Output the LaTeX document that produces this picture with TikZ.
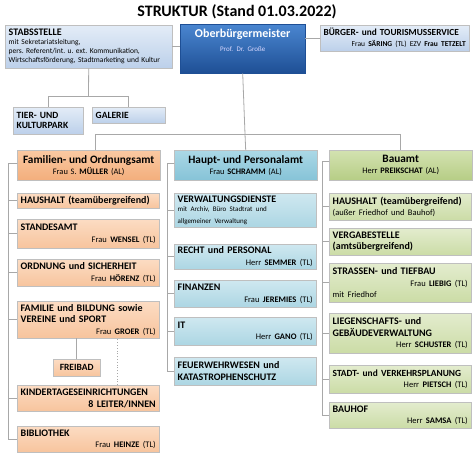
\documentclass[tikz,border=0pt]{standalone}
\usepackage{fontspec}
\setmainfont{Carlito}
\usetikzlibrary{shadows}
\frenchspacing

\definecolor{obtop}{HTML}{4A86D0}
\definecolor{obbot}{HTML}{1E4F95}
\definecolor{sttop}{HTML}{E3ECF7}
\definecolor{stbot}{HTML}{BCD0EA}
\definecolor{ortop}{HTML}{FCDCC3}
\definecolor{orbot}{HTML}{F7C49D}
\definecolor{orhtop}{HTML}{FAC9A2}
\definecolor{orhbot}{HTML}{F3AE7C}
\definecolor{bltop}{HTML}{CFE8F0}
\definecolor{blbot}{HTML}{ACD6E3}
\definecolor{blhtop}{HTML}{ABD8E6}
\definecolor{blhbot}{HTML}{86C3D7}
\definecolor{grtop}{HTML}{E3ECCE}
\definecolor{grbot}{HTML}{CBDCA6}
\definecolor{grhtop}{HTML}{D3E2B1}
\definecolor{grhbot}{HTML}{B6CD85}
\definecolor{wire}{HTML}{A8A8A8}

\newcommand{\namefont}{\fontsize{8.5}{11}\selectfont}
\newcommand{\who}[3]{\hfill\mbox{\namefont#1 \textbf{#2} (#3)}}

\begin{document}
\begin{tikzpicture}[x=1pt,y=-1pt,
	box/.style={draw=black!25, line width=.4pt, anchor=north west, inner xsep=3.5pt, inner ysep=1.5pt, align=left,
		drop shadow={shadow xshift=1pt, shadow yshift=-1pt, opacity=.35}},
	sub/.style={box, text width=135pt, font=\fontsize{10}{11.5}\selectfont},
	head/.style={box, text width=136pt, align=center, minimum height=30pt, font=\fontsize{8.4}{11}\selectfont},
	org/.style={top color=ortop, bottom color=orbot},
	orgh/.style={top color=orhtop, bottom color=orhbot},
	blu/.style={top color=bltop, bottom color=blbot},
	bluh/.style={top color=blhtop, bottom color=blhbot},
	grn/.style={top color=grtop, bottom color=grbot},
	grnh/.style={top color=grhtop, bottom color=grhbot},
	stb/.style={top color=sttop, bottom color=stbot},
	wire/.style={draw=wire, line width=.8pt}]
	\fill[white] (0,0) rectangle (474,455);
	\useasboundingbox (0,0) rectangle (474,455);

	\node[font=\fontsize{16}{18}\selectfont\bfseries] (title) at (237,12) {STRUKTUR (Stand 01.03.2022)};

	% top row
	\node[box, top color=obtop, bottom color=obbot, draw=obbot, text width=118pt, minimum height=49pt, align=center, text=white, inner ysep=4pt] (ob) at (180,24)
		{\fontsize{12}{14}\selectfont\bfseries Oberbürgermeister\\{\fontsize{7}{9}\selectfont\mdseries\color{blue!15} Prof. Dr. Große}\\\rule{0pt}{15pt}};
	\node[box, stb, text width=160pt, minimum height=43pt, font=\fontsize{7.5}{9}\selectfont] (stab) at (5,25)
		{\textbf{\fontsize{10}{10}\selectfont STABSSTELLE}\\mit Sekretariatsleitung,\\pers. Referent/int. u. ext. Kommunikation,\\Wirtschaftsförderung, Stadtmarketing und Kultur};
	\node[box, stb, text width=142pt, minimum height=26pt, font=\fontsize{9.3}{11}\selectfont] (buerger) at (320,25)
		{\mbox{\textbf{BÜRGER-\ und TOURISMUSSERVICE}}\\\hfill\mbox{\fontsize{7.5}{9}\selectfont Frau \textbf{SÄRING} (TL) EZV \textbf{Frau TETZELT}}};
	\node[box, stb, text width=63pt, minimum height=27pt, font=\fontsize{9.5}{10.5}\selectfont\bfseries] (tier) at (13,107) {TIER- UND\\KULTURPARK};
	\node[box, stb, text width=66pt, minimum height=16pt, font=\fontsize{9.5}{10.5}\selectfont\bfseries] (galerie) at (92,107) {GALERIE};

	% departments
	\node[head, orgh] (fam) at (17,150) {{\fontsize{11.3}{13}\selectfont\bfseries Familien- und Ordnungsamt}\\Frau S. \textbf{MÜLLER} (AL)};
	\node[head, bluh] (haupt) at (174,150) {{\fontsize{11.3}{13}\selectfont\bfseries Haupt- und Personalamt}\\Frau \textbf{SCHRAMM} (AL)};
	\node[head, grnh] (bau) at (329,150) {{\fontsize{11.3}{13}\selectfont\bfseries Bauamt}\\Herr \textbf{PREIKSCHAT} (AL)};

	% Familien- und Ordnungsamt
	\node[sub, org, minimum height=15pt] (haus) at (17,193) {\textbf{HAUSHALT (teamübergreifend)}};
	\node[sub, org, minimum height=29pt] (stand) at (17,219) {\textbf{STANDESAMT}\\\who{Frau}{WENSEL}{TL}};
	\node[sub, org, minimum height=27pt] (ordn) at (17,259) {\textbf{ORDNUNG und SICHERHEIT}\\\who{Frau}{HÖRENZ}{TL}};
	\node[sub, org, minimum height=37pt] (fambil) at (17,301) {\textbf{FAMILIE und BILDUNG sowie}\\\textbf{VEREINE und SPORT}\\\who{Frau}{GROER}{TL}};
	\node[box, org, text width=40pt, minimum height=17pt, align=center, font=\fontsize{9.5}{10.5}\selectfont\bfseries] (frei) at (53,359) {FREIBAD};
	\node[sub, org, minimum height=26pt] (kita) at (17,385) {\textbf{KINDERTAGESEINRICHTUNGEN}\\\hfill\textbf{8 LEITER/INNEN}};
	\node[sub, org, minimum height=26pt] (bib) at (17,426) {\textbf{BIBLIOTHEK}\\\who{Frau}{HEINZE}{TL}};

	% Haupt- und Personalamt
	\node[sub, blu, minimum height=34pt] (verw) at (174,193) {\textbf{VERWALTUNGSDIENSTE}\\{\fontsize{7}{9}\selectfont mit Archiv, Büro Stadtrat und\\allgemeiner Verwaltung}};
	\node[sub, blu, minimum height=25pt] (recht) at (174,244) {\textbf{RECHT und PERSONAL}\\\who{Herr}{SEMMER}{TL}};
	\node[sub, blu, minimum height=27pt] (fin) at (174,280) {\textbf{FINANZEN}\\\who{Frau}{JEREMIES}{TL}};
	\node[sub, blu, minimum height=28pt] (it) at (174,317) {\textbf{IT}\\\who{Herr}{GANO}{TL}};
	\node[sub, blu, minimum height=28pt] (feuer) at (174,357) {\textbf{FEUERWEHRWESEN und}\\\textbf{KATASTROPHENSCHUTZ}};

	% Bauamt
	\node[sub, grn, minimum height=27pt] (haus2) at (329,193) {\textbf{HAUSHALT (teamübergreifend)}\\{\namefont(außer Friedhof und Bauhof)}};
	\node[sub, grn, minimum height=27pt] (verg) at (329,228) {\textbf{VERGABESTELLE}\\\textbf{(amtsübergreifend)}};
	\node[sub, grn, minimum height=39pt] (str) at (329,263) {\textbf{STRASSEN- und TIEFBAU}\\\who{Frau}{LIEBIG}{TL}\\{\namefont mit Friedhof}};
	\node[sub, grn, minimum height=40pt] (lieg) at (329,313) {\textbf{LIEGENSCHAFTS- und}\\\textbf{GEBÄUDEVERWALTUNG}\\\who{Herr}{SCHUSTER}{TL}};
	\node[sub, grn, minimum height=28pt] (stadt) at (329,365) {\mbox{\fontsize{9.4}{11.5}\selectfont\textbf{STADT- und VERKEHRSPLANUNG}}\\\who{Herr}{PIETSCH}{TL}};
	\node[sub, grn, minimum height=26pt] (bauhof) at (329,402) {\textbf{BAUHOF}\\\who{Herr}{SAMSA}{TL}};

	% connectors
	\draw[wire] (stab.east) -- (stab.east -| ob.west);
	\draw[wire] (ob.east |- buerger.west) -- (buerger.west);
	\coordinate (sbar) at (88.5,96);
	\draw[wire] (stab.south) -- (sbar);
	\draw[wire] (sbar) -| (tier.north);
	\draw[wire] (sbar) -| (galerie.north);
	\coordinate (obar) at (245,134);
	\draw[wire] (ob.south) -- (obar);
	\draw[wire] (obar) -| ([xshift=7pt]fam.north);
	\draw[wire] (obar) -- (haupt.north);
	\draw[wire] (obar) -| (bau.north);
	\foreach \n in {haus,stand,ordn,fambil,kita,bib}
		\draw[wire] ([yshift=-13pt]fam.north west) -- ++(-9,0) |- (\n.west);
	\foreach \n in {verw,recht,fin,it,feuer}
		\draw[wire] ([yshift=-13pt]haupt.north west) -- ++(-7,0) |- (\n.west);
	\foreach \n in {haus2,verg,str,lieg,stadt,bauhof}
		\draw[wire] ([yshift=-11pt]bau.north west) -- ++(-7,0) |- (\n.west);
	\draw[wire] (frei.north) -- (frei.north |- fambil.south);
	\draw[wire, dotted] ([xshift=29pt]kita.north) -- ([xshift=29pt]kita.north |- fambil.south);
\end{tikzpicture}
\end{document}
